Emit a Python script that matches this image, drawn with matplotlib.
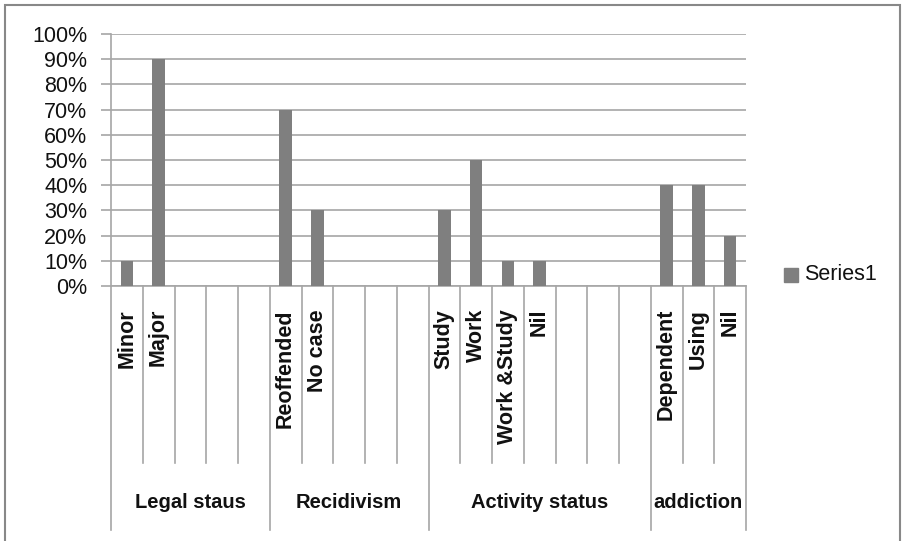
import matplotlib.pyplot as plt
import matplotlib.transforms as mtransforms
from matplotlib.patches import Rectangle
from matplotlib.ticker import PercentFormatter

# category slots (empty strings are unused slots in each group)
labels = ["Minor", "Major", "", "", "",
          "Reoffended", "No case", "", "", "",
          "Study", "Work", "Work &Study", "Nil", "", "", "",
          "Dependent", "Using", "Nil"]
values = [0.10, 0.90, 0, 0, 0,
          0.70, 0.30, 0, 0, 0,
          0.30, 0.50, 0.10, 0.10, 0, 0, 0,
          0.40, 0.40, 0.20]
groups = ["Legal staus", "Recidivism", "Activity status", "addiction"]
group_sizes = [5, 5, 7, 3]
series_name = "Series1"

W, H = 902, 541
bar_color = "#7f7f7f"
line_color = "#a6a6a6"
text_color = "#111111"
font = ["Liberation Sans", "DejaVu Sans"]

fig = plt.figure(figsize=(W / 100, H / 100), dpi=100)
ax = fig.add_axes([111 / W, 1 - 286 / H, (746 - 111) / W, (286 - 34) / H])

n = len(labels)
xs = list(range(n))
ax.bar(xs, values, width=0.39, color=bar_color, zorder=3, label=series_name)

ax.set_xlim(-0.5, n - 0.5)
ax.set_ylim(0, 1)
ax.set_yticks([i / 10 for i in range(11)])
ax.yaxis.set_major_formatter(PercentFormatter(1.0, decimals=0))
ax.grid(axis="y", color=line_color, linewidth=1.2, zorder=0)
ax.set_xticks([])
for side in ["top", "right"]:
    ax.spines[side].set_visible(False)
for side in ["left", "bottom"]:
    ax.spines[side].set_color(line_color)
    ax.spines[side].set_linewidth(1.2)
ax.tick_params(axis="y", length=7, color=line_color, width=1.2, pad=10)
for t in ax.get_yticklabels():
    t.set_family(font)
    t.set_fontsize(15.5)
    t.set_color(text_color)

# multi-level category axis below the plot
trans = mtransforms.blended_transform_factory(ax.transData, fig.transFigure)
def fy(py):
    return 1 - py / H

bounds = [0]
for s in group_sizes:
    bounds.append(bounds[-1] + s)

for i in range(n + 1):
    bottom = 530 if i in bounds else 463
    ax.plot([i - 0.5, i - 0.5], [fy(286), fy(bottom)], color=line_color,
            linewidth=1.2, transform=trans, clip_on=False)

for x, lab in zip(xs, labels):
    if lab:
        ax.text(x, fy(309), lab, rotation=90, ha="center", va="top",
                fontsize=15.5, fontweight="bold", family=font, color=text_color,
                transform=trans)

for g, (a, b) in zip(groups, zip(bounds[:-1], bounds[1:])):
    ax.text((a + b - 1) / 2, fy(503), g, ha="center", va="center",
            fontsize=14.5, fontweight="bold", family=font, color=text_color,
            transform=trans)

# legend
fig.patches.append(Rectangle((784 / W, fy(282)), 14 / W, 14 / H,
                             transform=fig.transFigure, color=bar_color))
fig.text(804 / W, fy(275), series_name, ha="left", va="center",
         fontsize=15.5, family=font, color=text_color)

# chart border
fig.patches.append(Rectangle((5 / W, fy(545)), (900 - 5) / W, (545 - 5) / H,
                             transform=fig.transFigure, fill=False,
                             edgecolor="#888888", linewidth=1.5))

fig.savefig("out.png", dpi=100)
